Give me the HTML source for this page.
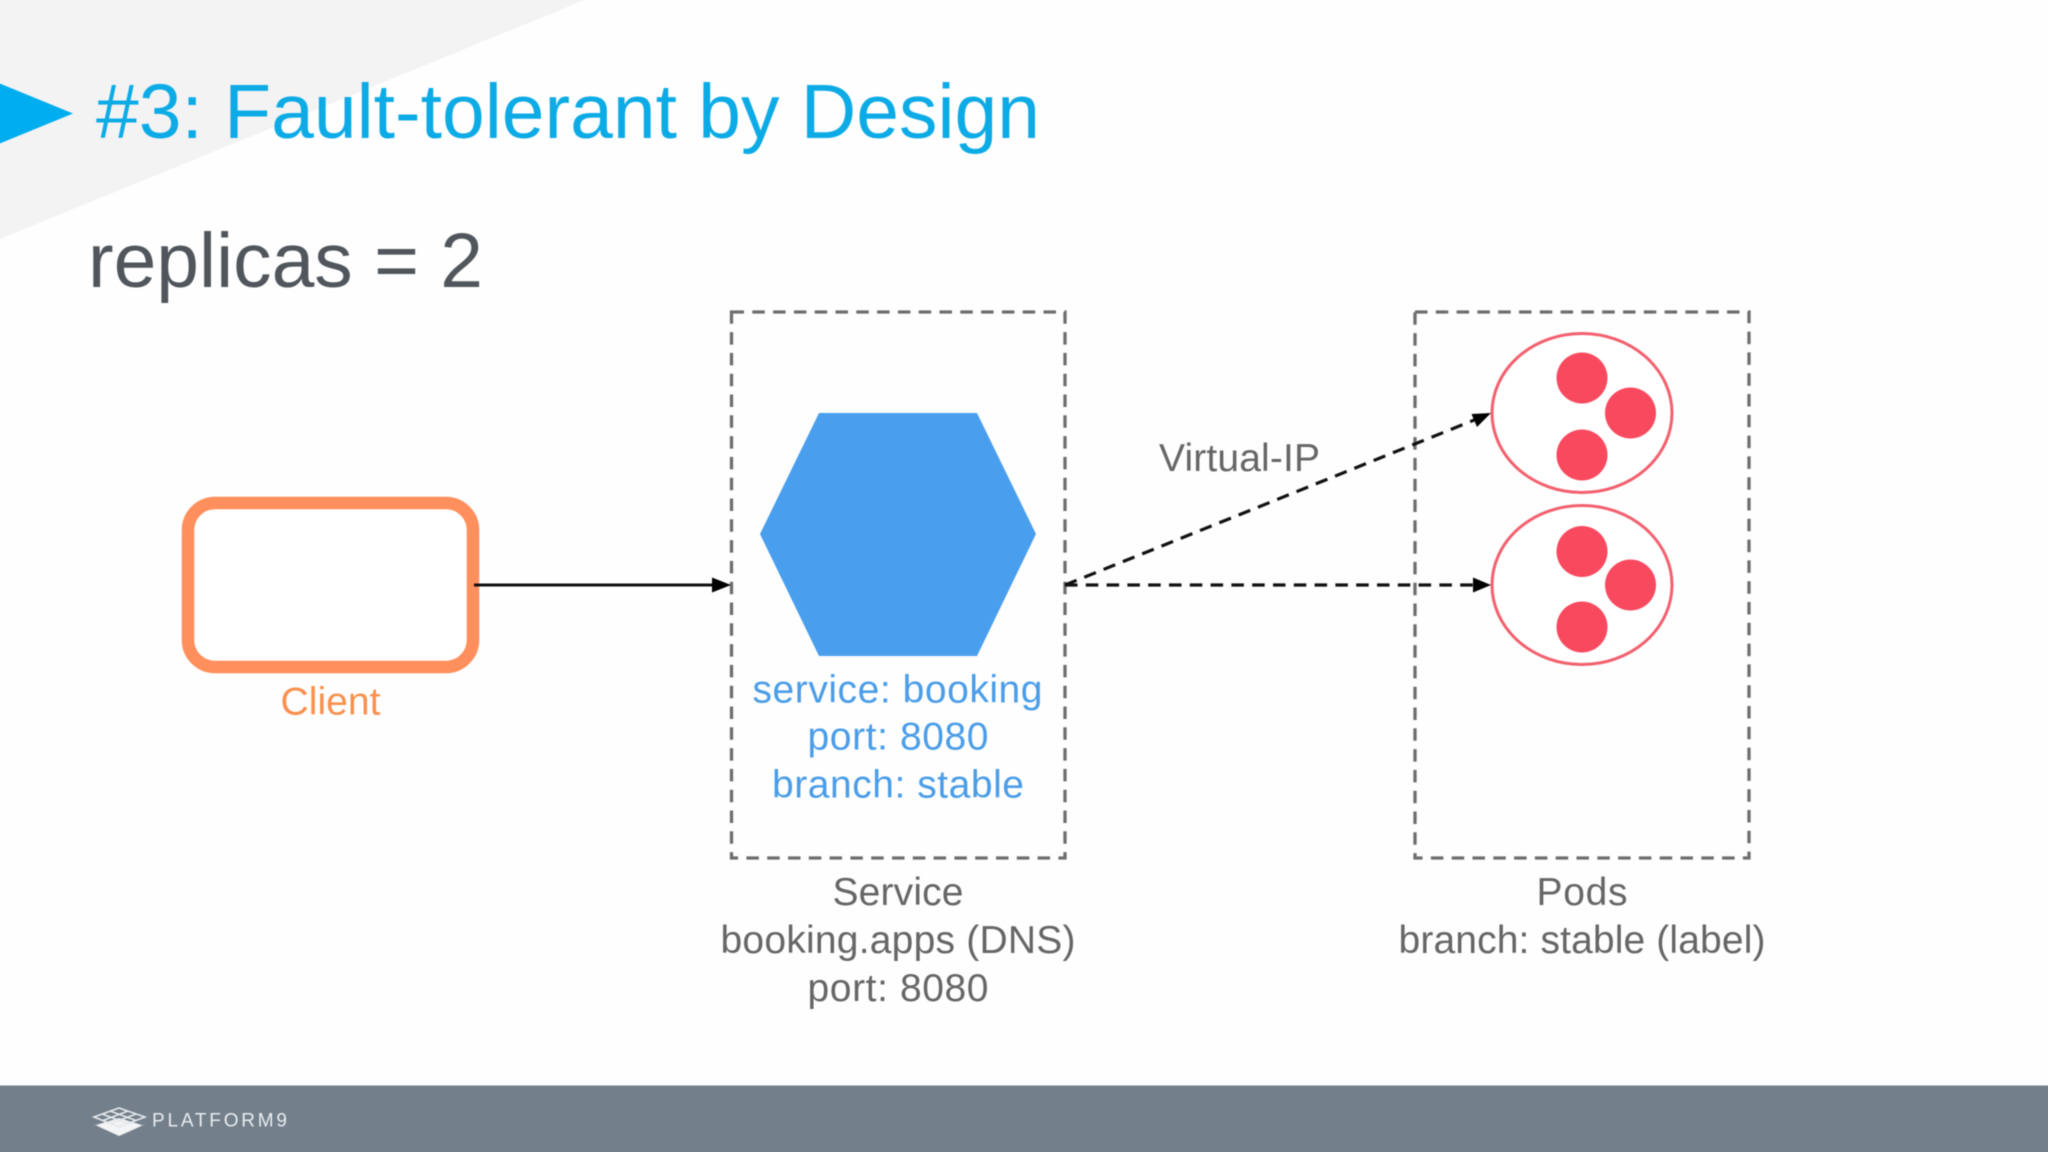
<!DOCTYPE html>
<html lang="en">
<head>
<meta charset="utf-8">
<title>#3: Fault-tolerant by Design</title>
<style>
html,body{margin:0;padding:0;background:#fff;width:2048px;height:1152px;overflow:hidden}
#wrap{position:relative;width:2048px;height:1152px;overflow:hidden;contain:strict}
svg{display:block;position:absolute;left:-10px;top:-10px;filter:blur(0.6px)}
text{font-family:"Liberation Sans",Arial,sans-serif}
</style>
</head>
<body>
<div id="wrap">
<svg width="2068" height="1172" viewBox="-10 -10 2068 1172" xmlns="http://www.w3.org/2000/svg">
  <rect x="-10" y="-10" width="2068" height="1172" fill="#fefefe"/>
  <polygon points="-10,-10 609,-10 -10,243" fill="#f3f3f4"/>
  <polygon points="-10,79.5 73,113.5 -10,147.5" fill="#00aeef"/>
  <text x="96" y="138" font-size="77" fill="#0dabe6" textLength="944" lengthAdjust="spacingAndGlyphs">#3: Fault-tolerant by Design</text>
  <text x="88" y="287" font-size="77" fill="#50565c" textLength="395" lengthAdjust="spacingAndGlyphs">replicas = 2</text>

  <!-- dashed containers -->
  <rect x="731.5" y="312" width="333.5" height="546" fill="none" stroke="#6e6e6e" stroke-width="3.3" stroke-dasharray="12.5 8.3"/>
  <rect x="1415" y="312" width="334" height="546" fill="none" stroke="#6e6e6e" stroke-width="3.3" stroke-dasharray="12.5 8.3"/>

  <!-- client -->
  <rect x="188" y="503" width="285" height="164" rx="27" ry="27" fill="#fff" stroke="#ff8f5c" stroke-width="12.5"/>
  <text x="330.5" y="714.5" font-size="39" fill="#f9914e" text-anchor="middle" textLength="100" lengthAdjust="spacing">Client</text>

  <!-- solid arrow -->
  <line x1="474" y1="585" x2="716" y2="585" stroke="#111" stroke-width="3"/>
  <polygon points="712,577.5 731,585 712,592.5" fill="#000"/>

  <!-- hexagon -->
  <polygon points="760,534 819,413 977,413 1036,534 977,656 819,656" fill="#4a9eee"/>
  <g font-size="39" text-anchor="middle" fill="#4a9de8">
    <text x="897.5" y="702.5" textLength="290" lengthAdjust="spacing">service: booking</text>
    <text x="898" y="749.5" textLength="181" lengthAdjust="spacing">port: 8080</text>
    <text x="898" y="797.5" textLength="252" lengthAdjust="spacing">branch: stable</text>
  </g>
  <g font-size="39" text-anchor="middle" fill="#666">
    <text x="898" y="905" textLength="131" lengthAdjust="spacing">Service</text>
    <text x="898" y="953" textLength="355" lengthAdjust="spacing">booking.apps (DNS)</text>
    <text x="898" y="1001" textLength="181" lengthAdjust="spacing">port: 8080</text>
    <text x="1582" y="905" textLength="91" lengthAdjust="spacing">Pods</text>
    <text x="1582" y="953" textLength="367" lengthAdjust="spacing">branch: stable (label)</text>
    <text x="1239.5" y="471" textLength="161" lengthAdjust="spacing">Virtual-IP</text>
  </g>

  <!-- dashed arrows -->
  <line x1="1065" y1="585" x2="1478" y2="585" stroke="#111" stroke-width="3.2" stroke-dasharray="12.5 8.3"/>
  <polygon points="1473,577.5 1491,585 1473,592.5" fill="#000"/>
  <line x1="1065" y1="585" x2="1478" y2="418.5" stroke="#111" stroke-width="3.2" stroke-dasharray="12.5 8.3"/>
  <polygon points="1471.5,414 1491,413 1477,427" fill="#000"/>

  <!-- pods -->
  <g fill="#fff" stroke="#f2606e" stroke-width="3">
    <ellipse cx="1582" cy="413" rx="90" ry="79.5"/>
    <ellipse cx="1582" cy="585" rx="90" ry="79.5"/>
  </g>
  <g fill="#f9495f">
    <circle cx="1582" cy="378" r="25.5"/>
    <circle cx="1630.5" cy="413" r="25.5"/>
    <circle cx="1582" cy="455" r="25.5"/>
    <circle cx="1582" cy="551.5" r="25.5"/>
    <circle cx="1630.5" cy="585" r="25.5"/>
    <circle cx="1582" cy="627" r="25.5"/>
  </g>

  <!-- footer -->
  <rect x="-10" y="1085.5" width="2068" height="77" fill="#737f8b"/>
  <polygon points="93,1124 119,1133 146,1124 119,1136" fill="#f2f4f5"/>
  <polygon points="96,1125 119,1118 142,1125 119,1135" fill="#f2f4f5"/>
  <g fill="none" stroke="#e6e9eb" stroke-width="1.6">
    <polygon points="94,1117 119,1108 145,1117 119,1127"/>
    <line x1="102" y1="1114" x2="128" y2="1123.5"/>
    <line x1="110" y1="1111" x2="136" y2="1120.5"/>
    <line x1="103" y1="1120.5" x2="128" y2="1111"/>
    <line x1="111" y1="1123.5" x2="136" y2="1114"/>
  </g>
  <text x="152" y="1126.5" font-size="19" fill="#e8ecef" textLength="135" lengthAdjust="spacing">PLATFORM9</text>
</svg>
</div>
</body>
</html>
